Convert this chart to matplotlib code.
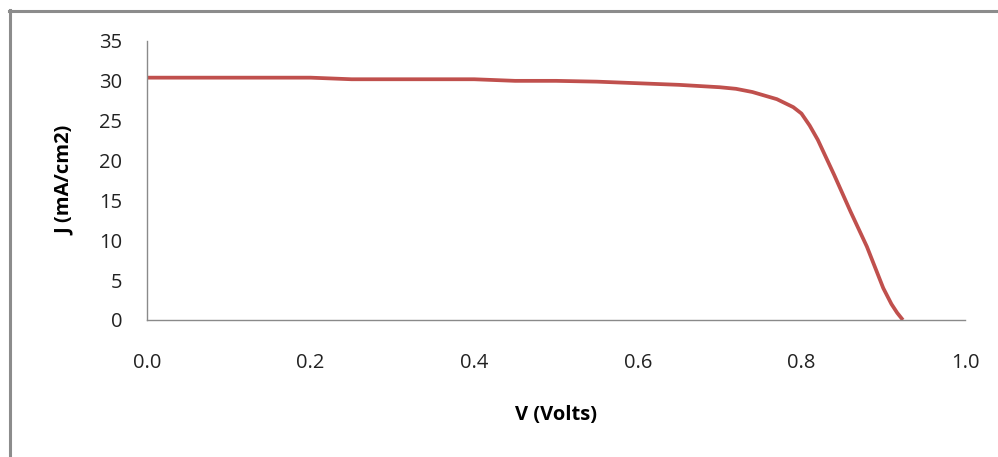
import matplotlib
matplotlib.use('Agg')
import matplotlib.pyplot as plt
from matplotlib.lines import Line2D

# J-V curve of the cell
volts = [0.0, 0.1, 0.2, 0.25, 0.3, 0.4, 0.45, 0.5, 0.55, 0.6, 0.65, 0.7, 0.72,
         0.74, 0.76, 0.77, 0.78, 0.79, 0.8, 0.81, 0.82, 0.84, 0.86, 0.88,
         0.89, 0.9, 0.91, 0.917, 0.924]
current = [30.4, 30.4, 30.4, 30.2, 30.2, 30.2, 30.0, 30.0, 29.9, 29.7, 29.5, 29.2, 29.0,
           28.6, 28.0, 27.7, 27.2, 26.7, 25.9, 24.4, 22.6, 18.2, 13.6, 9.2,
           6.6, 4.0, 2.0, 0.9, 0.0]

x_ticks = [0.0, 0.2, 0.4, 0.6, 0.8, 1.0]
y_ticks = [0, 5, 10, 15, 20, 25, 30, 35]

plt.rcParams['font.family'] = ['Open Sans', 'DejaVu Sans']

fig = plt.figure(figsize=(9.98, 4.57), dpi=100)
ax = fig.add_axes([0.1473, 0.2998, 0.8197, 0.6105])

ax.plot(volts, current, color='#C0504D', lw=2.7, solid_capstyle='butt',
        solid_joinstyle='round')

ax.set_xlim(0, 1.0)
ax.set_ylim(0, 35)
ax.set_xticks(x_ticks)
ax.set_xticklabels(['%.1f' % t for t in x_ticks])
ax.set_yticks(y_ticks)
ax.tick_params(axis='both', length=0, labelsize=14.5, colors='#222222')
ax.tick_params(axis='y', pad=18)
ax.tick_params(axis='x', pad=24)

for side in ['top', 'right']:
    ax.spines[side].set_visible(False)
for side in ['left', 'bottom']:
    ax.spines[side].set_color('#8a8a8a')
    ax.spines[side].set_linewidth(1.0)

ax.set_xlabel('V (Volts)', fontsize=14.5, fontweight='bold', labelpad=23)
ax.set_ylabel('J (mA/cm2)', fontsize=14.5, fontweight='bold', labelpad=17)

# outer chart frame, open at right and bottom
frame_col = '#8c8c8c'
fig.add_artist(Line2D([9.5 / 998, 9.5 / 998], [0, 1 - 10 / 457], transform=fig.transFigure,
                      color=frame_col, lw=2.2))
fig.add_artist(Line2D([8.5 / 998, 1], [1 - 10.5 / 457, 1 - 10.5 / 457], transform=fig.transFigure,
                      color=frame_col, lw=2.2))

fig.savefig('out.png', dpi=100)
